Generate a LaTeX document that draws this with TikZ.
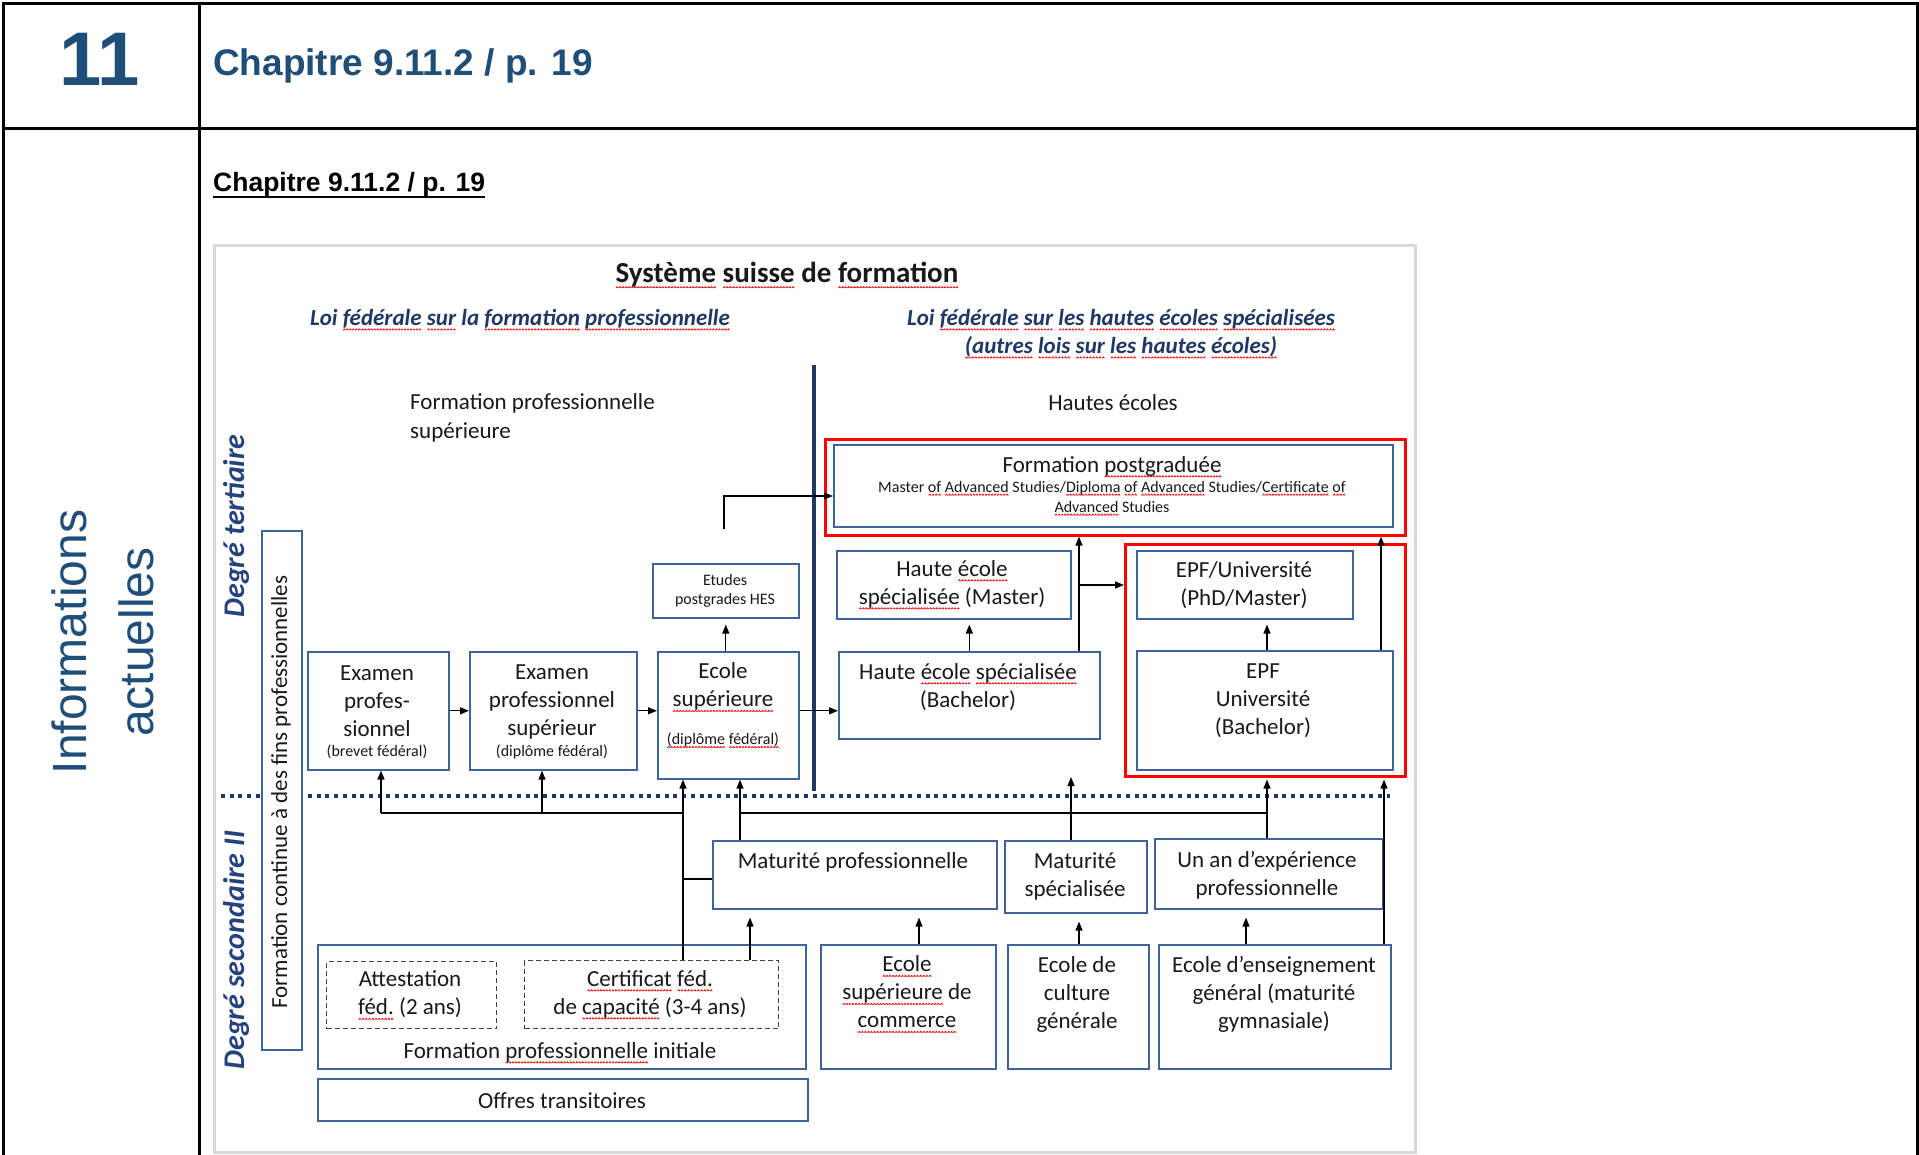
\documentclass[tikz,border=0pt]{standalone}
\usepackage{fontspec}
\setmainfont{Carlito}
\newfontfamily\arialf{Liberation Sans}
\usetikzlibrary{arrows.meta}
\definecolor{hdrblue}{HTML}{1F4E79}
\definecolor{navy}{HTML}{1F3864}
\definecolor{degblue}{HTML}{24437E}
\definecolor{boxblue}{HTML}{3F649B}
\definecolor{framegray}{HTML}{D9D9D9}
\newcommand\bodyf{\fontsize{23}{28}\selectfont}
\newcommand\smallf{\fontsize{16}{20}\selectfont}
\newsavebox\wavebox
\newsavebox\sqword
\AtBeginDocument{\sbox\wavebox{\pgfpicture\pgfsetlinewidth{0.8pt}\pgfsetstrokecolor{red}\pgfsetmiterjoin\pgfpathmoveto{\pgfpoint{0pt}{0pt}}\pgfpathlineto{\pgfpoint{1.1pt}{1.3pt}}\pgfpathlineto{\pgfpoint{2.2pt}{0pt}}\pgfusepath{stroke}\endpgfpicture}}
\newcommand\sq[1]{\sbox\sqword{#1}\rlap{\lower0.22em\hbox to \wd\sqword{\xleaders\copy\wavebox\hfil}}\usebox\sqword}
\begin{document}
\begin{tikzpicture}[x=1pt,y=-1pt,
  box/.style={draw=boxblue, line width=1.6pt, fill=white, inner sep=0pt, anchor=north west},
  redbox/.style={draw=red, line width=2.6pt, inner sep=0pt, anchor=north west},
  dbox/.style={draw=black!75, line width=1.4pt, dash pattern=on 5pt off 3pt, inner sep=0pt, anchor=north west},
  tx/.style={inner sep=0pt, align=center, font=\bodyf, text=black!90, yshift=-2pt},
  sm/.style={inner sep=0pt, align=center, font=\smallf, text=black!90, yshift=-1.5pt},
  arr/.style={line width=1.3pt, -{Triangle[length=9pt,width=7pt]}},
  ln/.style={line width=1.3pt},
  tbl/.style={line width=2.5pt, black}]
\useasboundingbox (0,0) rectangle (1919,1155);
\fill[white] (0,0) rectangle (1919,1155);
% table
\draw[tbl] (3.7,1160) -- (3.7,3.7) -- (1917.5,3.7) -- (1917.5,1160);
\draw[tbl] (199.5,3.7) -- (199.5,1160);
\draw[tbl] (3.7,128.5) -- (1917.5,128.5);
\node[anchor=base, inner sep=0pt, text=hdrblue, font=\arialf\bfseries\fontsize{76}{80}\selectfont] (num) at (100,86) {11};
\node[anchor=base west, inner sep=0pt, text=hdrblue, font=\arialf\bfseries\fontsize{37}{42}\selectfont] (chap1) at (213,76) {Chapitre 9.11.2 / p. 19};
\node[anchor=base west, inner sep=0pt, font=\arialf\bfseries\fontsize{26.5}{30}\selectfont] (chap2) at (213,192) {Chapitre 9.11.2 / p. 19};
\draw[line width=2.2pt] ([yshift=-5pt]chap2.base west) -- ([yshift=-5pt]chap2.base east);
\node[rotate=90, inner sep=0pt, align=center, text=hdrblue, font=\arialf\fontsize{48}{67}\selectfont] (info) at (103,642) {Informations\\actuelles};
% frame
\draw[framegray, line width=3pt, fill=white] (214,246) rectangle (1415,1152);
% headings
\node[tx, font=\bfseries\fontsize{29}{35}\selectfont] (title) at (787,273) {\sq{Système} \sq{suisse} de \sq{formation}};
\node[tx, text=navy, font=\bfseries\itshape\bodyf] (loi1) at (520,318) {Loi \sq{fédérale} \sq{sur} la \sq{formation} \sq{professionnelle}};
\node[tx, text=navy, font=\bfseries\itshape\bodyf] (loi2) at (1121,332) {Loi \sq{fédérale} \sq{sur} \sq{les} \sq{hautes} \sq{écoles} \sq{spécialisées}\\\sq{(autres} \sq{lois} \sq{sur} \sq{les} \sq{hautes} \sq{écoles)}};
\node[tx, align=left, anchor=west, font=\fontsize{23}{29}\selectfont] (fps) at (410,415.5) {Formation professionnelle\\supérieure};
\node[tx] (he) at (1113,401) {Hautes écoles};
\node[tx, rotate=90, text=degblue, font=\bfseries\itshape\fontsize{30}{36}\selectfont] (deg3) at (236,524) {Degré tertiaire};
\node[tx, rotate=90, text=degblue, font=\bfseries\itshape\fontsize{30}{36}\selectfont] (deg2) at (236,948) {Degré secondaire II};
% separators
\draw[navy, line width=3.5pt] (814,365) -- (814,791);
\draw[navy, line width=4pt, dash pattern=on 4pt off 4.7pt] (221,795.5) -- (1390,795.5);
% boxes
\node[box, minimum width=40pt, minimum height=519pt] (fcont) at (261,530) {};
\node[tx, rotate=90] (fcont-t) at (281,790) {Formation continue à des fins professionnelles};
\node[redbox, minimum width=580pt, minimum height=96pt] (red1) at (824,438) {};
\node[redbox, minimum width=280pt, minimum height=232pt] (red2) at (1124,543) {};
\node[box, minimum width=141pt, minimum height=118pt] (exprof) at (307,651) {};
\node[box, minimum width=167pt, minimum height=118pt] (exsup) at (469,651) {};
\node[box, minimum width=141pt, minimum height=127pt] (ecsup) at (657,651) {};
\node[box, minimum width=146pt, minimum height=54pt] (etudes) at (652,563) {};
\node[box, minimum width=559pt, minimum height=82pt] (fpg) at (833,444) {};
\node[box, minimum width=234pt, minimum height=68pt] (hesm) at (836,550) {};
\node[box, minimum width=261pt, minimum height=87pt] (hesb) at (838,651) {};
\node[box, minimum width=216pt, minimum height=68pt] (epfm) at (1136,550) {};
\node[box, minimum width=256pt, minimum height=119pt] (epfb) at (1136,650) {};
\node[box, minimum width=284pt, minimum height=68pt] (matpro) at (712,840) {};
\node[box, minimum width=142pt, minimum height=72pt] (matspe) at (1004,840) {};
\node[box, minimum width=228pt, minimum height=70pt] (unan) at (1154,838) {};
\node[box, minimum width=175pt, minimum height=124pt] (eccom) at (820,944) {};
\node[box, minimum width=141pt, minimum height=124pt] (ecgen) at (1007,944) {};
\node[box, minimum width=232pt, minimum height=124pt] (ecens) at (1158,944) {};
\node[box, minimum width=488pt, minimum height=124pt] (fpi) at (317,944) {};
\node[dbox, minimum width=170pt, minimum height=67pt] (attest) at (326,961) {};
\node[dbox, minimum width=254pt, minimum height=68pt] (certif) at (524,960) {};
\node[box, minimum width=490pt, minimum height=42pt] (offres) at (317,1078) {};
% texts
\node[tx] (exprof-t) at (377,699.5) {Examen\\profes-\\sionnel};
\node[sm] (exprof-s) at (377,750) {(brevet fédéral)};
\node[tx] (exsup-t) at (552,699.5) {Examen\\professionnel\\supérieur};
\node[sm] (exsup-s) at (552,750) {(diplôme fédéral)};
\node[tx] (ecsup-t) at (723,685.5) {Ecole\\\sq{supérieure}};
\node[sm] (ecsup-s) at (723,739) {\sq{(diplôme} \sq{fédéral)}};
\node[sm, font=\fontsize{16}{19}\selectfont] (etudes-t) at (725,589) {Etudes\\postgrades HES};
\node[tx] (fpg-t) at (1112,465) {Formation \sq{postgraduée}};
\node[sm] (fpg-s) at (1112,497) {Master \sq{of} \sq{Advanced} Studies/\sq{Diploma} \sq{of} \sq{Advanced} Studies/\sq{Certificate} \sq{of}\\\sq{Advanced} Studies};
\node[tx] (hesm-t) at (952,583) {Haute \sq{école}\\\sq{spécialisée} (Master)};
\node[tx] (hesb-t) at (968,685) {Haute \sq{école} \sq{spécialisée}\\(Bachelor)};
\node[tx] (epfm-t) at (1244,583) {EPF/Université\\(PhD/Master)};
\node[tx] (epfb-t) at (1263,699) {EPF\\Université\\(Bachelor)};
\node[tx] (matpro-t) at (853,860) {Maturité professionnelle};
\node[tx] (matspe-t) at (1075,874) {Maturité\\spécialisée};
\node[tx] (unan-t) at (1267,873) {Un an d’expérience\\professionnelle};
\node[tx] (eccom-t) at (907,992.5) {\sq{Ecole}\\\sq{supérieure} de\\\sq{commerce}};
\node[tx] (ecgen-t) at (1077,992.5) {Ecole de\\culture\\générale};
\node[tx] (ecens-t) at (1274,992.5) {Ecole d’enseignement\\général (maturité\\gymnasiale)};
\node[tx] (attest-t) at (410,993.5) {Attestation\\\sq{féd.} (2 ans)};
\node[tx] (certif-t) at (650,993) {\sq{Certificat} \sq{féd.}\\de \sq{capacité} (3-4 ans)};
\node[tx] (fpi-t) at (560,1051) {Formation \sq{professionnelle} initiale};
\node[tx] (offres-t) at (562,1099) {Offres transitoires};
% connectors upper
\draw[arr] (exprof.east) -- (exsup.west);
\draw[arr] (exsup.east) -- (exsup.east -| ecsup.west);
\draw[arr] (exsup.east -| ecsup.east) -- (exsup.east -| hesb.west);
\draw[arr, shorten >=6pt] (etudes.south |- ecsup.north) -- (etudes.south);
\coordinate (pgA) at (724,529);
\coordinate (pgB) at (724,496);
\draw[arr] (pgA) -- (pgB) -- (pgB -| fpg.west);
\draw[arr, shorten >=5pt] (hesb.north) -- (hesb.north |- hesm.south);
\coordinate (hj) at (1079,651);
\coordinate (hbr) at (1079,585);
\draw[arr] (hj) -- (hj |- red1.south);
\draw[arr] (hbr) -- (hbr -| red2.west);
\coordinate (ep1) at (1267,650);
\draw[arr, shorten >=5pt] (ep1) -- (ep1 |- epfm.south);
\coordinate (ep2) at (1381,650);
\draw[arr] (ep2) -- (ep2 |- red1.south);
% connectors lower
\coordinate (L1) at (381,813);
\coordinate (L2) at (542,813);
\coordinate (cA) at (683,960);
\coordinate (cB) at (683,879);
\coordinate (mA) at (740,840);
\coordinate (uA) at (1267,838);
\draw[ln] (L1) -- (L1 -| cA);
\draw[ln] (mA |- L1) -- (uA |- L1);
\draw[arr] (L1) -- (L1 |- exprof.south);
\draw[arr] (L2) -- (L2 |- exsup.south);
\draw[arr] (cA) -- (cA |- ecsup.south);
\draw[ln] (cB) -- (cB -| matpro.west);
\draw[arr] (mA) -- (mA |- ecsup.south);
\coordinate (sA) at (1071,840);
\coordinate (sTip) at (1071,777);
\draw[arr] (sA) -- (sTip);
\draw[arr, shorten >=2pt] (uA) -- (uA |- red2.south);
\coordinate (eA) at (1384,944);
\draw[arr, shorten >=2pt] (eA) -- (eA |- red2.south);
\coordinate (eB) at (1246,944);
\draw[arr, shorten >=8pt] (eB) -- (eB |- unan.south);
\coordinate (gA) at (1079,944);
\draw[arr, shorten >=8pt] (gA) -- (gA |- matspe.south);
\coordinate (cC) at (919,944);
\draw[arr, shorten >=8pt] (cC) -- (cC |- matpro.south);
\coordinate (cD) at (750,960);
\draw[arr, shorten >=8pt] (cD) -- (cD |- matpro.south);
\end{tikzpicture}
\end{document}
